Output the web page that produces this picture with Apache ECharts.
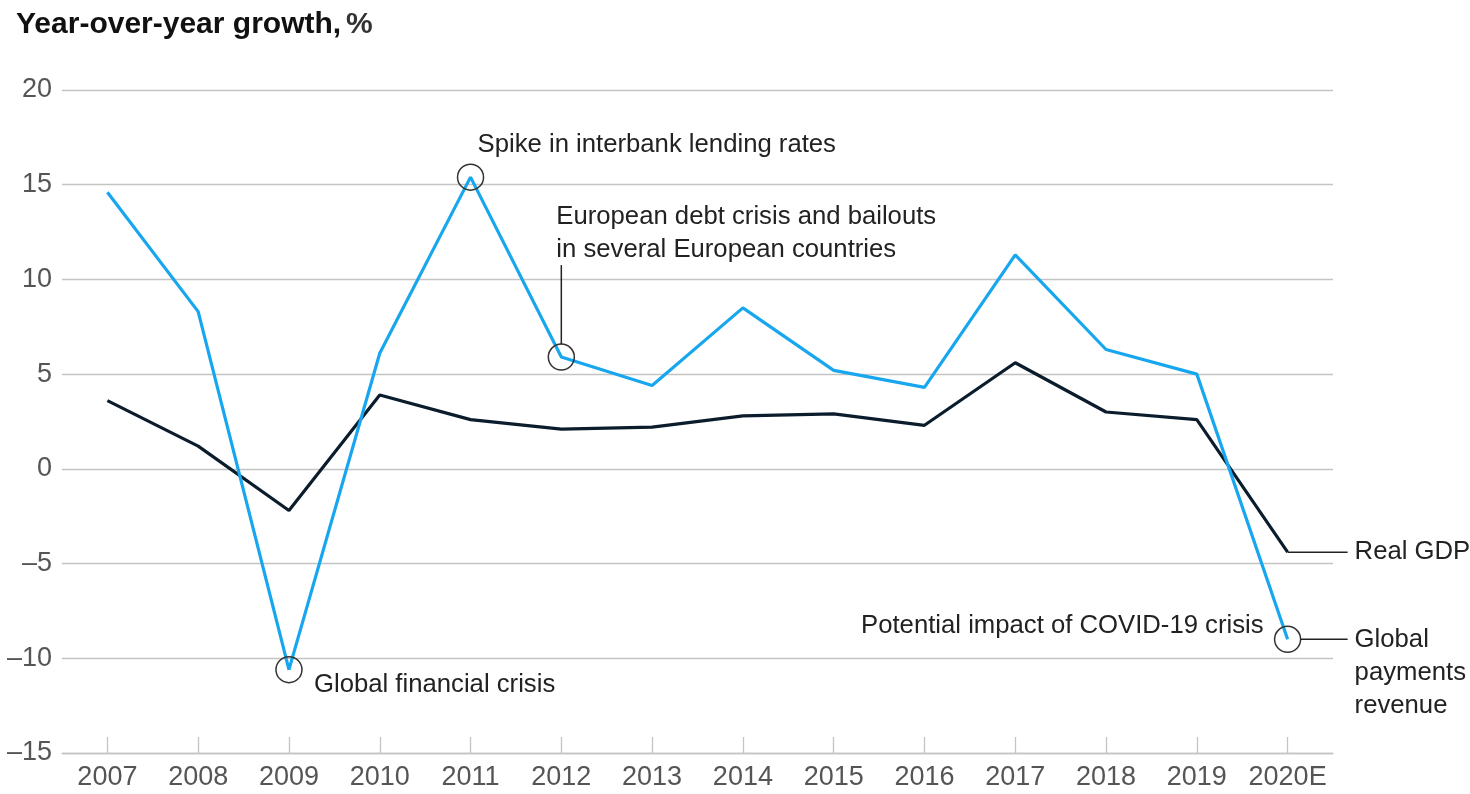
<!DOCTYPE html>
<html><head><meta charset="utf-8">
<script src="https://cdn.jsdelivr.net/npm/echarts@6/dist/echarts.min.js"></script>
<style>html,body{margin:0;padding:0;background:#fff}#c{width:1470px;height:794px}</style>
</head><body><div id="c"></div>
<script>
const years = ['2007','2008','2009','2010','2011','2012','2013','2014','2015','2016','2017','2018','2019','2020E'];
const paymentsRevenue = [14.6, 8.3, -10.6, 6.1, 15.4, 5.9, 4.4, 8.5, 5.2, 4.3, 11.3, 6.3, 5.0, -9.0];
const realGDP = [3.6, 1.2, -2.2, 3.9, 2.6, 2.1, 2.2, 2.8, 2.9, 2.3, 5.6, 3.0, 2.6, -4.4];
const yTicks = {min: -15, max: 20, interval: 5};
const FONT = '"Liberation Sans", Arial, sans-serif';

const chart = echarts.init(document.getElementById('c'), null, {renderer: 'canvas'});
chart.setOption({
  animation: false,
  backgroundColor: '#fff',
  title: {
    left: 11, top: 5,
    text: '{b|Year-over-year growth,} {n|%}',
    textStyle: {
      rich: {
        b: {fontFamily: FONT, fontSize: 30, fontWeight: 'bold', color: '#111'},
        n: {fontFamily: FONT, fontSize: 30, color: '#333'}
      }
    }
  },
  grid: {left: 62, right: 137, top: 90, bottom: 41, containLabel: false},
  xAxis: {
    type: 'category', data: years, boundaryGap: true,
    axisLine: {onZero: false, lineStyle: {color: '#c4c4c4', width: 1.3}},
    axisTick: {show: true, interval: 0, alignWithLabel: true, inside: true, length: 16, lineStyle: {color: '#c4c4c4', width: 1.3}},
    axisLabel: {interval: 0, fontFamily: FONT, fontSize: 27, color: '#555', margin: 11}
  },
  yAxis: {
    type: 'value', min: yTicks.min, max: yTicks.max, interval: yTicks.interval,
    axisLine: {show: false}, axisTick: {show: false},
    axisLabel: {fontFamily: FONT, fontSize: 27, color: '#555', margin: 10,
      formatter: v => String(v).replace('-', '\u2013')},
    splitLine: {lineStyle: {color: '#c4c4c4', width: 1.3}}
  },
  series: [
    {name: 'Real GDP', type: 'line', data: realGDP, symbol: 'none',
      lineStyle: {color: '#0b1d2c', width: 3.2}, z: 3},
    {name: 'Global payments revenue', type: 'line', data: paymentsRevenue, symbol: 'none',
      lineStyle: {color: '#18a7ef', width: 3.2}, z: 4}
  ]
});

const px = (i, v) => chart.convertToPixel({gridIndex: 0}, [i, v]);
const R = 13;
const FS = 25.7;
const g = [];
const circleAt = (i) => {
  const p = px(i, paymentsRevenue[i]);
  g.push({type: 'circle', shape: {cx: p[0], cy: p[1], r: R}, style: {fill: 'none', stroke: '#333', lineWidth: 1.5}, z: 10});
  return p;
};
const txt = (x, y, text, align) => g.push({type: 'text', x: x, y: y, z: 10,
  style: {text: text, fill: '#222', font: FS + 'px ' + FONT, textAlign: align || 'left', textVerticalAlign: 'middle'}});

// 2009
let p = circleAt(2);
txt(p[0] + 25, p[1] + 15, 'Global financial crisis');
// 2011
p = circleAt(4);
txt(p[0] + 7, p[1] - 32, 'Spike in interbank lending rates');
// 2012
p = circleAt(5);
txt(p[0] - 5, p[1] - 140, 'European debt crisis and bailouts');
txt(p[0] - 5, p[1] - 107, 'in several European countries');
g.push({type: 'line', shape: {x1: p[0], y1: p[1] - R, x2: p[0], y2: p[1] - 92}, style: {stroke: '#222', lineWidth: 1.5}, z: 10});
// 2020E
p = circleAt(13);
txt(p[0] - 24, p[1] - 13, 'Potential impact of COVID-19 crisis', 'right');
g.push({type: 'line', shape: {x1: p[0] + R, y1: p[1], x2: p[0] + 60, y2: p[1]}, style: {stroke: '#222', lineWidth: 1.5}, z: 10});
g.push({type: 'text', x: p[0] + 67, y: p[1] - 16, z: 10,
  style: {text: 'Global\npayments\nrevenue', fill: '#222', font: FS + 'px ' + FONT, textAlign: 'left', textVerticalAlign: 'top', lineHeight: 33}});
const q = px(13, realGDP[13]);
g.push({type: 'line', shape: {x1: q[0], y1: q[1], x2: q[0] + 60, y2: q[1]}, style: {stroke: '#222', lineWidth: 1.5}, z: 10});
txt(q[0] + 67, q[1], 'Real GDP');

chart.setOption({graphic: g});
</script>
</body></html>
